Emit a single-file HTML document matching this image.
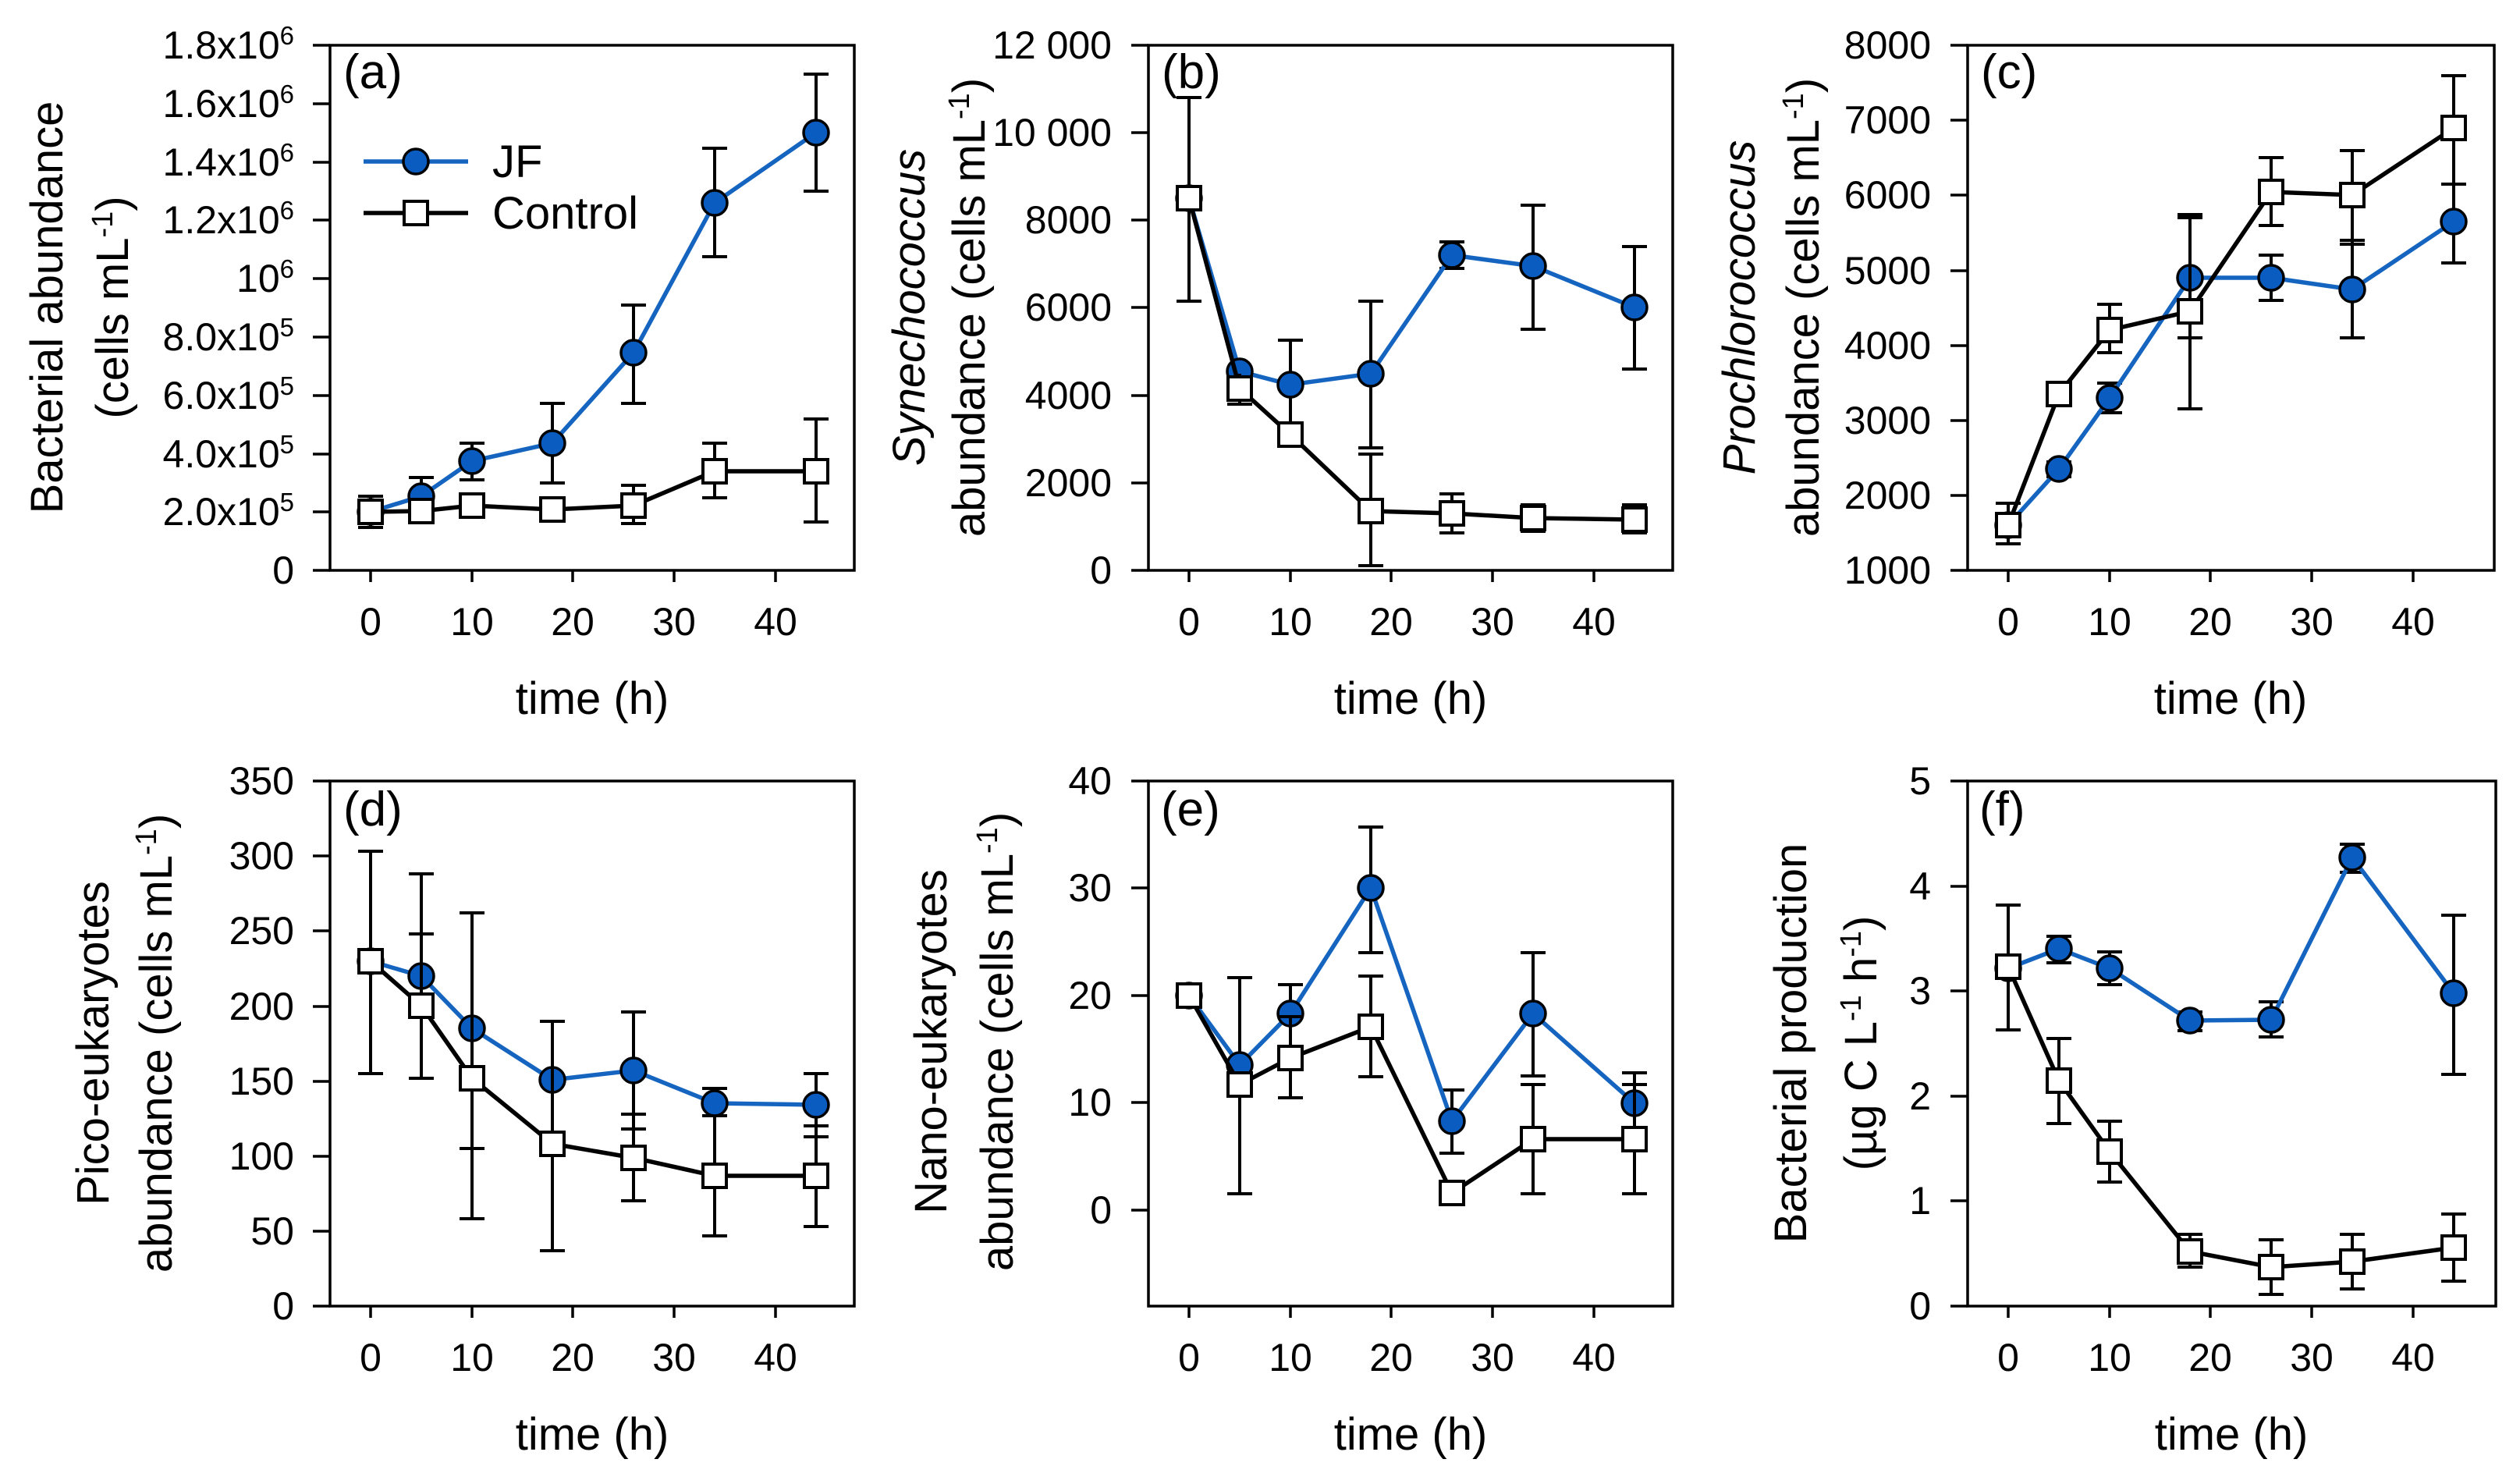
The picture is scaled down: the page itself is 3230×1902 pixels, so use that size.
<!DOCTYPE html>
<html><head><meta charset="utf-8"><style>
html,body{margin:0;padding:0;background:#fff}
svg{display:block}
text{font-family:"Liberation Sans",Arial,sans-serif;fill:#000}
.tk{font-size:50px}
.tt{font-size:58px}
.pl{font-size:62px}
.ax{stroke:#000;stroke-width:3.5;fill:none}
.bl{stroke:#1565c0;stroke-width:5.5;fill:none}
.kl{stroke:#000;stroke-width:5.5;fill:none}
.eb{stroke:#000;stroke-width:4;fill:none}
.c{fill:#0a5cc0;stroke:#000;stroke-width:3.5}
.s{fill:#fff;stroke:#000;stroke-width:4}
</style></head><body>
<svg width="3230" height="1902" viewBox="0 0 3230 1902" xmlns="http://www.w3.org/2000/svg">

<!-- ========== PANEL A ========== -->
<rect class="ax" x="423" y="58" width="672" height="673"/>
<path class="ax" d="M401 731H423M401 656H423M401 582H423M401 507H423M401 432H423M401 357H423M401 282H423M401 208H423M401 133H423M401 58H423M475 731V746M605 731V746M734 731V746M864 731V746M994 731V746"/>
<g class="tk" text-anchor="end">
<text x="377" y="748">0</text>
<text x="377" y="673">2.0x10<tspan font-size="33" dy="-18">5</tspan></text>
<text x="377" y="599">4.0x10<tspan font-size="33" dy="-18">5</tspan></text>
<text x="377" y="524">6.0x10<tspan font-size="33" dy="-18">5</tspan></text>
<text x="377" y="449">8.0x10<tspan font-size="33" dy="-18">5</tspan></text>
<text x="377" y="374">10<tspan font-size="33" dy="-18">6</tspan></text>
<text x="377" y="299">1.2x10<tspan font-size="33" dy="-18">6</tspan></text>
<text x="377" y="225">1.4x10<tspan font-size="33" dy="-18">6</tspan></text>
<text x="377" y="150">1.6x10<tspan font-size="33" dy="-18">6</tspan></text>
<text x="377" y="75">1.8x10<tspan font-size="33" dy="-18">6</tspan></text>
</g>
<g class="tk" text-anchor="middle"><text x="475" y="814">0</text><text x="605" y="814">10</text><text x="734" y="814">20</text><text x="864" y="814">30</text><text x="994" y="814">40</text></g>
<text class="tt" x="759" y="915" text-anchor="middle">time (h)</text>
<text class="tt" text-anchor="middle" transform="translate(80,394) rotate(-90)">Bacterial abundance</text>
<text class="tt" text-anchor="middle" transform="translate(164,394) rotate(-90)">(cells mL<tspan font-size="38" dy="-20">-1</tspan><tspan dy="20">)</tspan></text>
<text class="pl" x="440" y="113">(a)</text>
<!-- legend -->
<path class="bl" d="M466 207H600"/><circle class="c" cx="533" cy="207" r="16"/>
<text class="tt" x="631" y="227">JF</text>
<path class="kl" d="M466 273H600"/><rect class="s" x="518" y="258" width="30" height="30"/>
<text class="tt" x="631" y="293">Control</text>
<!-- JF a -->
<path class="eb" d="M540 638V612M524 612H556M605 568V615M589 568H621M589 615H621M708 517V619M692 517H724M692 619H724M812 391V517M796 391H828M796 517H828M916 190V329M900 190H932M900 329H932M1046 95V245M1030 95H1062M1030 245H1062"/>
<polyline class="bl" points="475,656 540,636 605,591 708,568 812,452 916,260 1046,170"/>
<g class="c"><circle cx="475" cy="656" r="16"/><circle cx="540" cy="636" r="16"/><circle cx="605" cy="591" r="16"/><circle cx="708" cy="568" r="16"/><circle cx="812" cy="452" r="16"/><circle cx="916" cy="260" r="16"/><circle cx="1046" cy="170" r="16"/></g>
<!-- Control a -->
<path class="eb" d="M475 636V676M459 636H491M459 676H491M812 622V671M796 622H828M796 671H828M916 568V638M900 568H932M900 638H932M1046 537V669M1030 537H1062M1030 669H1062"/>
<polyline class="kl" points="475,656 540,655 605,648 708,653 812,648 916,604 1046,604"/>
<g class="s"><rect x="460" y="641" width="30" height="30"/><rect x="525" y="640" width="30" height="30"/><rect x="590" y="633" width="30" height="30"/><rect x="693" y="638" width="30" height="30"/><rect x="797" y="633" width="30" height="30"/><rect x="901" y="589" width="30" height="30"/><rect x="1031" y="589" width="30" height="30"/></g>

<!-- ========== PANEL B ========== -->
<rect class="ax" x="1472" y="58" width="672" height="673"/>
<path class="ax" d="M1450 731H1472M1450 619H1472M1450 507H1472M1450 394H1472M1450 282H1472M1450 170H1472M1450 58H1472M1524 731V746M1654 731V746M1783 731V746M1913 731V746M2043 731V746"/>
<g class="tk" text-anchor="end">
<text x="1425" y="748">0</text><text x="1425" y="636">2000</text><text x="1425" y="524">4000</text><text x="1425" y="411">6000</text><text x="1425" y="299">8000</text><text x="1425" y="187">10 000</text><text x="1425" y="75">12 000</text>
</g>
<g class="tk" text-anchor="middle"><text x="1524" y="814">0</text><text x="1654" y="814">10</text><text x="1783" y="814">20</text><text x="1913" y="814">30</text><text x="2043" y="814">40</text></g>
<text class="tt" x="1808" y="915" text-anchor="middle">time (h)</text>
<text class="tt" text-anchor="middle" font-style="italic" transform="translate(1185,394) rotate(-90)">Synechococcus</text>
<text class="tt" text-anchor="middle" transform="translate(1262,394) rotate(-90)">abundance (cells mL<tspan font-size="38" dy="-20">-1</tspan><tspan dy="20">)</tspan></text>
<text class="pl" x="1489" y="113">(b)</text>
<path class="eb" d="M1654 546V436M1638 546H1670M1638 436H1670M1757 574V386M1741 574H1773M1741 386H1773M1861 344V310M1845 344H1877M1845 310H1877M1965 422V263M1949 422H1981M1949 263H1981M2095 473V316M2079 473H2111M2079 316H2111"/>
<polyline class="bl" points="1524,254 1589,476 1654,493 1757,479 1861,327 1965,341 2095,394"/>
<g class="c"><circle cx="1524" cy="254" r="16"/><circle cx="1589" cy="476" r="16"/><circle cx="1654" cy="493" r="16"/><circle cx="1757" cy="479" r="16"/><circle cx="1861" cy="327" r="16"/><circle cx="1965" cy="341" r="16"/><circle cx="2095" cy="394" r="16"/></g>
<path class="eb" d="M1524 125V386M1508 125H1540M1508 386H1540M1589 479V518M1573 518H1605M1757 582V725M1741 582H1773M1741 725H1773M1861 633V683M1845 633H1877M1845 683H1877M1965 647V681M1949 647H1981M1949 681H1981M2095 647V683M2079 647H2111M2079 683H2111"/>
<polyline class="kl" points="1524,254 1589,498 1654,557 1757,655 1861,658 1965,664 2095,666"/>
<g class="s"><rect x="1509" y="239" width="30" height="30"/><rect x="1574" y="483" width="30" height="30"/><rect x="1639" y="542" width="30" height="30"/><rect x="1742" y="640" width="30" height="30"/><rect x="1846" y="643" width="30" height="30"/><rect x="1950" y="649" width="30" height="30"/><rect x="2080" y="651" width="30" height="30"/></g>

<!-- ========== PANEL C ========== -->
<rect class="ax" x="2522" y="58" width="675" height="673"/>
<path class="ax" d="M2500 731H2522M2500 635H2522M2500 539H2522M2500 443H2522M2500 347H2522M2500 250H2522M2500 154H2522M2500 58H2522M2574 731V746M2704 731V746M2833 731V746M2963 731V746M3093 731V746"/>
<g class="tk" text-anchor="end">
<text x="2475" y="748">1000</text><text x="2475" y="652">2000</text><text x="2475" y="556">3000</text><text x="2475" y="460">4000</text><text x="2475" y="364">5000</text><text x="2475" y="267">6000</text><text x="2475" y="171">7000</text><text x="2475" y="75">8000</text>
</g>
<g class="tk" text-anchor="middle"><text x="2574" y="814">0</text><text x="2704" y="814">10</text><text x="2833" y="814">20</text><text x="2963" y="814">30</text><text x="3093" y="814">40</text></g>
<text class="tt" x="2859" y="915" text-anchor="middle">time (h)</text>
<text class="tt" text-anchor="middle" font-style="italic" transform="translate(2249,394) rotate(-90)">Prochlorococcus</text>
<text class="tt" text-anchor="middle" transform="translate(2331,394) rotate(-90)">abundance (cells mL<tspan font-size="38" dy="-20">-1</tspan><tspan dy="20">)</tspan></text>
<text class="pl" x="2539" y="113">(c)</text>
<path class="eb" d="M2639 611V592M2623 611H2655M2623 592H2655M2704 529V491M2688 529H2720M2688 491H2720M2807 433V279M2791 433H2823M2791 279H2823M2911 385V327M2895 385H2927M2895 327H2927M3015 433V308M2999 433H3031M2999 308H3031M3145 337V236M3129 337H3161M3129 236H3161"/>
<polyline class="bl" points="2574,673 2639,601 2704,510 2807,356 2911,356 3015,371 3145,284"/>
<g class="c"><circle cx="2574" cy="673" r="16"/><circle cx="2639" cy="601" r="16"/><circle cx="2704" cy="510" r="16"/><circle cx="2807" cy="356" r="16"/><circle cx="2911" cy="356" r="16"/><circle cx="3015" cy="371" r="16"/><circle cx="3145" cy="284" r="16"/></g>
<path class="eb" d="M2574 645V697M2558 645H2590M2558 697H2590M2704 452V390M2688 452H2720M2688 390H2720M2807 524V275M2791 524H2823M2791 275H2823M2911 289V202M2895 289H2927M2895 202H2927M3015 313V193M2999 313H3031M2999 193H3031M3145 236V97M3129 236H3161M3129 97H3161"/>
<polyline class="kl" points="2574,673 2639,505 2704,423 2807,399 2911,246 3015,250 3145,164"/>
<g class="s"><rect x="2559" y="658" width="30" height="30"/><rect x="2624" y="490" width="30" height="30"/><rect x="2689" y="408" width="30" height="30"/><rect x="2792" y="384" width="30" height="30"/><rect x="2896" y="231" width="30" height="30"/><rect x="3000" y="235" width="30" height="30"/><rect x="3130" y="149" width="30" height="30"/></g>

<!-- ========== PANEL D ========== -->
<rect class="ax" x="423" y="1001" width="672" height="673"/>
<path class="ax" d="M401 1674H423M401 1578H423M401 1482H423M401 1386H423M401 1290H423M401 1193H423M401 1097H423M401 1001H423M475 1674V1689M605 1674V1689M734 1674V1689M864 1674V1689M994 1674V1689"/>
<g class="tk" text-anchor="end">
<text x="377" y="1691">0</text><text x="377" y="1595">50</text><text x="377" y="1499">100</text><text x="377" y="1403">150</text><text x="377" y="1307">200</text><text x="377" y="1210">250</text><text x="377" y="1114">300</text><text x="377" y="1018">350</text>
</g>
<g class="tk" text-anchor="middle"><text x="475" y="1757">0</text><text x="605" y="1757">10</text><text x="734" y="1757">20</text><text x="864" y="1757">30</text><text x="994" y="1757">40</text></g>
<text class="tt" x="759" y="1858" text-anchor="middle">time (h)</text>
<text class="tt" text-anchor="middle" transform="translate(139,1337) rotate(-90)">Pico-eukaryotes</text>
<text class="tt" text-anchor="middle" transform="translate(220,1337) rotate(-90)">abundance (cells mL<tspan font-size="38" dy="-20">-1</tspan><tspan dy="20">)</tspan></text>
<text class="pl" x="440" y="1058">(d)</text>
<path class="eb" d="M540 1382V1120M524 1382H556M524 1120H556M605 1472V1170M589 1472H621M589 1170H621M708 1462V1309M692 1462H724M692 1309H724M812 1447V1297M796 1447H828M796 1297H828M916 1430V1395M900 1430H932M900 1395H932M1046 1457V1376M1030 1457H1062M1030 1376H1062"/>
<polyline class="bl" points="475,1232 540,1251 605,1318 708,1384 812,1372 916,1414 1046,1416"/>
<g class="c"><circle cx="475" cy="1232" r="16"/><circle cx="540" cy="1251" r="16"/><circle cx="605" cy="1318" r="16"/><circle cx="708" cy="1384" r="16"/><circle cx="812" cy="1372" r="16"/><circle cx="916" cy="1414" r="16"/><circle cx="1046" cy="1416" r="16"/></g>
<path class="eb" d="M475 1091V1376M459 1091H491M459 1376H491M540 1197V1382M524 1197H556M605 1170V1562M589 1562H621M708 1318V1603M692 1603H724M812 1428V1539M796 1428H828M796 1539H828M916 1430V1584M900 1584H932M1046 1443V1572M1030 1443H1062M1030 1572H1062"/>
<polyline class="kl" points="475,1232 540,1289 605,1382 708,1466 812,1484 916,1507 1046,1507"/>
<g class="s"><rect x="460" y="1217" width="30" height="30"/><rect x="525" y="1274" width="30" height="30"/><rect x="590" y="1367" width="30" height="30"/><rect x="693" y="1451" width="30" height="30"/><rect x="797" y="1469" width="30" height="30"/><rect x="901" y="1492" width="30" height="30"/><rect x="1031" y="1492" width="30" height="30"/></g>

<!-- ========== PANEL E ========== -->
<rect class="ax" x="1472" y="1001" width="672" height="673"/>
<path class="ax" d="M1450 1551H1472M1450 1413H1472M1450 1276H1472M1450 1138H1472M1450 1001H1472M1524 1674V1689M1654 1674V1689M1783 1674V1689M1913 1674V1689M2043 1674V1689"/>
<g class="tk" text-anchor="end">
<text x="1425" y="1568">0</text><text x="1425" y="1430">10</text><text x="1425" y="1293">20</text><text x="1425" y="1155">30</text><text x="1425" y="1018">40</text>
</g>
<g class="tk" text-anchor="middle"><text x="1524" y="1757">0</text><text x="1654" y="1757">10</text><text x="1783" y="1757">20</text><text x="1913" y="1757">30</text><text x="2043" y="1757">40</text></g>
<text class="tt" x="1808" y="1858" text-anchor="middle">time (h)</text>
<text class="tt" text-anchor="middle" transform="translate(1213,1335) rotate(-90)">Nano-eukaryotes</text>
<text class="tt" text-anchor="middle" transform="translate(1298,1335) rotate(-90)">abundance (cells mL<tspan font-size="38" dy="-20">-1</tspan><tspan dy="20">)</tspan></text>
<text class="pl" x="1488" y="1058">(e)</text>
<path class="eb" d="M1589 1530V1253M1573 1530H1605M1573 1253H1605M1654 1358V1262M1638 1358H1670M1638 1262H1670M1757 1221V1060M1741 1221H1773M1741 1060H1773M1861 1478V1397M1845 1478H1877M1845 1397H1877M1965 1379V1221M1949 1379H1981M1949 1221H1981M2095 1455V1375M2079 1455H2111M2079 1375H2111"/>
<polyline class="bl" points="1524,1276 1589,1365 1654,1299 1757,1138 1861,1437 1965,1299 2095,1414"/>
<g class="c"><circle cx="1524" cy="1276" r="16"/><circle cx="1589" cy="1365" r="16"/><circle cx="1654" cy="1299" r="16"/><circle cx="1757" cy="1138" r="16"/><circle cx="1861" cy="1437" r="16"/><circle cx="1965" cy="1299" r="16"/><circle cx="2095" cy="1414" r="16"/></g>
<path class="eb" d="M1654 1407V1303M1638 1407H1670M1638 1303H1670M1757 1380V1251M1741 1380H1773M1741 1251H1773M1965 1530V1390M1949 1530H1981M1949 1390H1981M2095 1530V1390M2079 1530H2111M2079 1390H2111"/>
<polyline class="kl" points="1524,1276 1589,1390 1654,1356 1757,1316 1861,1529 1965,1460 2095,1460"/>
<g class="s"><rect x="1509" y="1261" width="30" height="30"/><rect x="1574" y="1375" width="30" height="30"/><rect x="1639" y="1341" width="30" height="30"/><rect x="1742" y="1301" width="30" height="30"/><rect x="1846" y="1514" width="30" height="30"/><rect x="1950" y="1445" width="30" height="30"/><rect x="2080" y="1445" width="30" height="30"/></g>

<!-- ========== PANEL F ========== -->
<rect class="ax" x="2522" y="1001" width="677" height="673"/>
<path class="ax" d="M2500 1674H2522M2500 1539H2522M2500 1405H2522M2500 1270H2522M2500 1136H2522M2500 1001H2522M2574 1674V1689M2704 1674V1689M2833 1674V1689M2963 1674V1689M3093 1674V1689"/>
<g class="tk" text-anchor="end">
<text x="2475" y="1691">0</text><text x="2475" y="1556">1</text><text x="2475" y="1422">2</text><text x="2475" y="1287">3</text><text x="2475" y="1153">4</text><text x="2475" y="1018">5</text>
</g>
<g class="tk" text-anchor="middle"><text x="2574" y="1757">0</text><text x="2704" y="1757">10</text><text x="2833" y="1757">20</text><text x="2963" y="1757">30</text><text x="3093" y="1757">40</text></g>
<text class="tt" x="2860" y="1858" text-anchor="middle">time (h)</text>
<text class="tt" text-anchor="middle" transform="translate(2315,1337) rotate(-90)">Bacterial production</text>
<text class="tt" text-anchor="middle" transform="translate(2405,1337) rotate(-90)">(µg C L<tspan font-size="38" dy="-20">-1</tspan><tspan dy="20"> h</tspan><tspan font-size="38" dy="-20">-1</tspan><tspan dy="20">)</tspan></text>
<text class="pl" x="2537" y="1058">(f)</text>
<path class="eb" d="M2639 1234V1200M2623 1234H2655M2623 1200H2655M2704 1262V1220M2688 1262H2720M2688 1220H2720M2807 1321V1297M2791 1321H2823M2791 1297H2823M2911 1329V1284M2895 1329H2927M2895 1284H2927M3015 1118V1082M2999 1118H3031M2999 1082H3031M3145 1377V1173M3129 1377H3161M3129 1173H3161"/>
<polyline class="bl" points="2574,1241 2639,1216 2704,1241 2807,1308 2911,1307 3015,1099 3145,1273"/>
<g class="c"><circle cx="2574" cy="1241" r="16"/><circle cx="2639" cy="1216" r="16"/><circle cx="2704" cy="1241" r="16"/><circle cx="2807" cy="1308" r="16"/><circle cx="2911" cy="1307" r="16"/><circle cx="3015" cy="1099" r="16"/><circle cx="3145" cy="1273" r="16"/></g>
<path class="eb" d="M2574 1160V1320M2558 1160H2590M2558 1320H2590M2639 1331V1440M2623 1331H2655M2623 1440H2655M2704 1437V1515M2688 1437H2720M2688 1515H2720M2807 1582V1624M2791 1582H2823M2791 1624H2823M2911 1589V1659M2895 1589H2927M2895 1659H2927M3015 1582V1652M2999 1582H3031M2999 1652H3031M3145 1556V1642M3129 1556H3161M3129 1642H3161"/>
<polyline class="kl" points="2574,1239 2639,1385 2704,1476 2807,1604 2911,1624 3015,1617 3145,1599"/>
<g class="s"><rect x="2559" y="1224" width="30" height="30"/><rect x="2624" y="1370" width="30" height="30"/><rect x="2689" y="1461" width="30" height="30"/><rect x="2792" y="1589" width="30" height="30"/><rect x="2896" y="1609" width="30" height="30"/><rect x="3000" y="1602" width="30" height="30"/><rect x="3130" y="1584" width="30" height="30"/></g>
</svg>
</body></html>
